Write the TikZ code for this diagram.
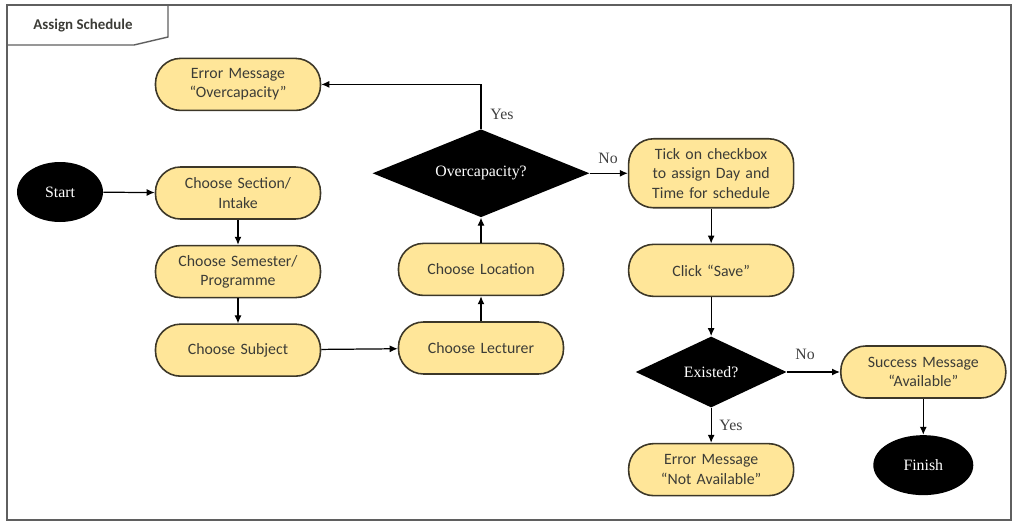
\documentclass[tikz,border=0pt]{standalone}
\usepackage{fontspec}
\setmainfont{Carlito}
\newfontfamily\serfont{Liberation Serif}
\usetikzlibrary{arrows.meta,positioning,shapes.geometric}
\definecolor{fcFill}{RGB}{255,230,153}
\definecolor{fcLine}{RGB}{60,55,40}
\definecolor{fcFrame}{RGB}{95,95,95}
\definecolor{fcText}{RGB}{60,60,55}

\begin{document}
\begin{tikzpicture}[
  x=0.2mm, y=-0.2mm,
  font=\fontsize{9}{11}\selectfont,
  stepbox/.style={draw=fcLine, line width=0.9pt, fill=fcFill, rounded corners=5mm,
              minimum width=33mm, minimum height=10.4mm, text width=30mm,
              align=center, inner sep=2pt, text=fcText},
  term/.style={ellipse, fill=black, minimum height=12mm, inner sep=0pt, text=white,
              font=\serfont\fontsize{9}{11}\selectfont},
  decide/.style={diamond, fill=black, inner sep=0pt, text=white,
              font=\serfont\fontsize{9}{11}\selectfont},
  lbl/.style={font=\serfont\fontsize{9}{11}\selectfont, text=black!75},
  ar/.style={-{Latex[length=1.6mm,width=1.4mm]}, draw=black, line width=0.7pt}
]

\useasboundingbox (0,0) rectangle (1017,526);
\draw[fcFrame, line width=0.8pt] (7,5) rectangle (1011,520);
\draw[fcFrame, line width=0.8pt] (7,45) -- (134,45) -- (168,37) -- (168,5);
\node[font=\bfseries\fontsize{8.5}{10}\selectfont, text=fcText] (title) at (83,26) {Assign Schedule};

% left column
\node[term, minimum width=17.2mm] (start) at (60,192) {Start};
\node[stepbox] (sec) at (238,193) {Choose Section/\\Intake};
\node[stepbox, below=5mm of sec] (sem) {Choose Semester/\\Programme};
\node[stepbox, below=5mm of sem] (subj) {Choose Subject};
\node[stepbox, above=11mm of sec] (errcap) {Error Message\\``Overcapacity''};

% middle column
\node[stepbox] (lect) at (481,348) {Choose Lecturer};
\node[stepbox, above=5mm of lect] (loc) {Choose Location};
\node[decide, aspect=2.6, minimum width=43.4mm, minimum height=17.6mm, above=5mm of loc] (over) {Overcapacity?};

% right columns
\node[stepbox, minimum height=13.8mm, right=7.6mm of over] (tick) {Tick on checkbox\\to assign Day and\\Time for schedule};
\node[stepbox, below=7mm of tick] (save) {Click ``Save''};
\node[decide, aspect=2.2, minimum width=30.2mm, minimum height=14.2mm, below=7.8mm of save] (exist) {Existed?};
\node[stepbox, below=7mm of exist] (errna) {Error Message\\``Not Available''};
\node[stepbox, right=10.6mm of exist] (succ) {Success Message\\``Available''};
\node[term, minimum width=20mm, below=7.2mm of succ] (finish) {Finish};

\foreach \a/\b in {start/sec, sec/sem, sem/subj, subj/lect, lect/loc, loc/over, tick/save, save/exist, succ/finish}
  \draw[ar] (\a) -- (\b);

\draw[ar] (over.north) |- (errcap.east);
\draw[ar] (over.east) -- (tick.west);
\draw[ar] (exist.east) -- (succ.west);
\draw[ar] (exist.south) -- (errna.north);

\node[lbl] (yes1) at (502,114) {Yes};
\node[lbl] (no1) at (608,158) {No};
\node[lbl] (no2) at (805,354) {No};
\node[lbl] (yes2) at (731,425) {Yes};

\end{tikzpicture}
\end{document}
